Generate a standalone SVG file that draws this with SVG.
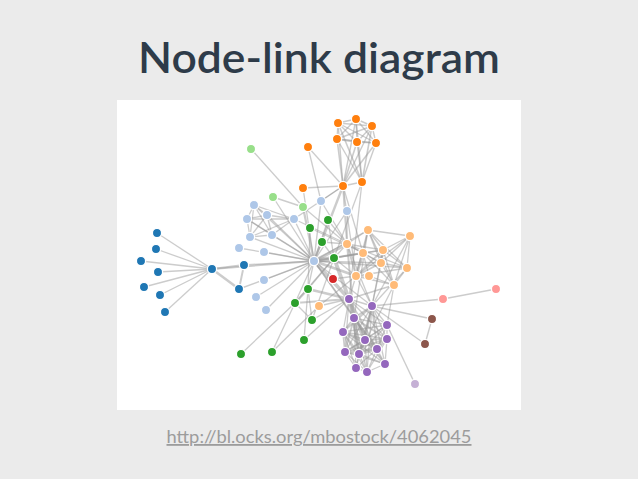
<svg xmlns="http://www.w3.org/2000/svg" width="638" height="479" viewBox="0 0 638 479">
<style>
.title{font-family:"Lato Semibold",Lato,"Liberation Sans",sans-serif;font-weight:600;font-size:42px;fill:#2e3b49}
.url{font-family:Lato,"Liberation Sans",sans-serif;font-size:18px;fill:#9c9c9c;text-decoration:underline}
#links line{stroke:#999;stroke-opacity:.5}
.w1{stroke-width:1.3}.w2{stroke-width:1.3}.w3{stroke-width:1.4}.w4{stroke-width:1.6}.w5{stroke-width:1.8}.w6{stroke-width:1.95}.w7{stroke-width:2.1}.w8{stroke-width:2.25}.w9{stroke-width:2.4}.w10{stroke-width:2.5}.w12{stroke-width:2.8}.w13{stroke-width:2.9}.w15{stroke-width:3.1}.w17{stroke-width:3.3}.w19{stroke-width:3.5}.w21{stroke-width:3.7}.w31{stroke-width:4.4}
.node circle{stroke:#fff;stroke-width:1.3}
.c1{fill:#1f77b4}.c2{fill:#aec7e8}.c3{fill:#ff7f0e}.c4{fill:#ffbb78}.c5{fill:#2ca02c}.c0{fill:#98df8a}.c6{fill:#d62728}.c7{fill:#ff9896}.c8{fill:#9467bd}.c9{fill:#c5b0d5}.c10{fill:#8c564b}
</style>
<rect x="0" y="0" width="638" height="479" fill="#ebebeb"/>
<text class="title" x="319" y="73" text-anchor="middle" textLength="362" lengthAdjust="spacingAndGlyphs">Node-link diagram</text>
<rect x="117" y="100" width="404" height="310" fill="#ffffff"/>
<g id="links">
<line x1="157" y1="233" x2="212" y2="269" class="w1"/>
<line x1="244" y1="265" x2="212" y2="269" class="w8"/>
<line x1="239" y1="289" x2="212" y2="269" class="w10"/>
<line x1="239" y1="289" x2="244" y2="265" class="w6"/>
<line x1="156" y1="249" x2="212" y2="269" class="w1"/>
<line x1="141" y1="261" x2="212" y2="269" class="w1"/>
<line x1="158" y1="272" x2="212" y2="269" class="w1"/>
<line x1="144" y1="287" x2="212" y2="269" class="w1"/>
<line x1="160" y1="295" x2="212" y2="269" class="w2"/>
<line x1="165" y1="312" x2="212" y2="269" class="w1"/>
<line x1="314" y1="261" x2="239" y2="248" class="w1"/>
<line x1="314" y1="261" x2="239" y2="289" class="w3"/>
<line x1="314" y1="261" x2="244" y2="265" class="w3"/>
<line x1="314" y1="261" x2="212" y2="269" class="w5"/>
<line x1="303" y1="188" x2="314" y2="261" class="w1"/>
<line x1="264" y1="252" x2="314" y2="261" class="w1"/>
<line x1="264" y1="280" x2="314" y2="261" class="w1"/>
<line x1="256" y1="297" x2="314" y2="261" class="w1"/>
<line x1="338" y1="123" x2="362" y2="182" class="w4"/>
<line x1="356" y1="119" x2="362" y2="182" class="w4"/>
<line x1="356" y1="119" x2="338" y2="123" class="w4"/>
<line x1="372" y1="126" x2="362" y2="182" class="w4"/>
<line x1="372" y1="126" x2="338" y2="123" class="w4"/>
<line x1="372" y1="126" x2="356" y2="119" class="w4"/>
<line x1="337" y1="139" x2="362" y2="182" class="w3"/>
<line x1="337" y1="139" x2="338" y2="123" class="w3"/>
<line x1="337" y1="139" x2="356" y2="119" class="w3"/>
<line x1="337" y1="139" x2="372" y2="126" class="w4"/>
<line x1="357" y1="142" x2="362" y2="182" class="w3"/>
<line x1="357" y1="142" x2="338" y2="123" class="w3"/>
<line x1="357" y1="142" x2="356" y2="119" class="w3"/>
<line x1="357" y1="142" x2="372" y2="126" class="w3"/>
<line x1="357" y1="142" x2="337" y2="139" class="w5"/>
<line x1="376" y1="143" x2="362" y2="182" class="w3"/>
<line x1="376" y1="143" x2="338" y2="123" class="w3"/>
<line x1="376" y1="143" x2="356" y2="119" class="w3"/>
<line x1="376" y1="143" x2="372" y2="126" class="w3"/>
<line x1="376" y1="143" x2="337" y2="139" class="w4"/>
<line x1="376" y1="143" x2="357" y2="142" class="w4"/>
<line x1="343" y1="186" x2="362" y2="182" class="w3"/>
<line x1="343" y1="186" x2="338" y2="123" class="w3"/>
<line x1="343" y1="186" x2="356" y2="119" class="w3"/>
<line x1="343" y1="186" x2="372" y2="126" class="w3"/>
<line x1="343" y1="186" x2="337" y2="139" class="w4"/>
<line x1="343" y1="186" x2="357" y2="142" class="w4"/>
<line x1="343" y1="186" x2="376" y2="143" class="w4"/>
<line x1="343" y1="186" x2="303" y2="188" class="w2"/>
<line x1="343" y1="186" x2="314" y2="261" class="w9"/>
<line x1="363" y1="253" x2="343" y2="186" class="w2"/>
<line x1="363" y1="253" x2="314" y2="261" class="w7"/>
<line x1="356" y1="276" x2="363" y2="253" class="w13"/>
<line x1="356" y1="276" x2="343" y2="186" class="w1"/>
<line x1="356" y1="276" x2="314" y2="261" class="w12"/>
<line x1="334" y1="258" x2="363" y2="253" class="w4"/>
<line x1="334" y1="258" x2="314" y2="261" class="w31"/>
<line x1="334" y1="258" x2="362" y2="182" class="w1"/>
<line x1="334" y1="258" x2="356" y2="276" class="w1"/>
<line x1="347" y1="244" x2="314" y2="261" class="w17"/>
<line x1="347" y1="244" x2="343" y2="186" class="w5"/>
<line x1="347" y1="244" x2="356" y2="276" class="w5"/>
<line x1="347" y1="244" x2="363" y2="253" class="w1"/>
<line x1="347" y1="244" x2="334" y2="258" class="w1"/>
<line x1="303" y1="207" x2="314" y2="261" class="w8"/>
<line x1="303" y1="207" x2="347" y2="244" class="w1"/>
<line x1="294" y1="219" x2="343" y2="186" class="w1"/>
<line x1="294" y1="219" x2="347" y2="244" class="w1"/>
<line x1="294" y1="219" x2="314" y2="261" class="w2"/>
<line x1="308" y1="147" x2="343" y2="186" class="w1"/>
<line x1="321" y1="201" x2="308" y2="147" class="w2"/>
<line x1="321" y1="201" x2="314" y2="261" class="w3"/>
<line x1="321" y1="201" x2="343" y2="186" class="w2"/>
<line x1="321" y1="201" x2="347" y2="244" class="w1"/>
<line x1="266" y1="310" x2="314" y2="261" class="w1"/>
<line x1="347" y1="211" x2="314" y2="261" class="w2"/>
<line x1="347" y1="211" x2="347" y2="244" class="w1"/>
<line x1="267" y1="215" x2="314" y2="261" class="w3"/>
<line x1="267" y1="215" x2="294" y2="219" class="w2"/>
<line x1="272" y1="235" x2="314" y2="261" class="w3"/>
<line x1="272" y1="235" x2="267" y2="215" class="w3"/>
<line x1="272" y1="235" x2="294" y2="219" class="w2"/>
<line x1="254" y1="205" x2="267" y2="215" class="w2"/>
<line x1="254" y1="205" x2="272" y2="235" class="w2"/>
<line x1="254" y1="205" x2="314" y2="261" class="w2"/>
<line x1="254" y1="205" x2="294" y2="219" class="w1"/>
<line x1="247" y1="219" x2="267" y2="215" class="w2"/>
<line x1="247" y1="219" x2="272" y2="235" class="w2"/>
<line x1="247" y1="219" x2="254" y2="205" class="w2"/>
<line x1="247" y1="219" x2="314" y2="261" class="w2"/>
<line x1="247" y1="219" x2="294" y2="219" class="w1"/>
<line x1="250" y1="237" x2="267" y2="215" class="w2"/>
<line x1="250" y1="237" x2="272" y2="235" class="w2"/>
<line x1="250" y1="237" x2="254" y2="205" class="w2"/>
<line x1="250" y1="237" x2="247" y2="219" class="w2"/>
<line x1="250" y1="237" x2="314" y2="261" class="w2"/>
<line x1="250" y1="237" x2="294" y2="219" class="w1"/>
<line x1="319" y1="306" x2="356" y2="276" class="w1"/>
<line x1="333" y1="279" x2="356" y2="276" class="w1"/>
<line x1="394" y1="285" x2="363" y2="253" class="w2"/>
<line x1="394" y1="285" x2="356" y2="276" class="w3"/>
<line x1="369" y1="276" x2="394" y2="285" class="w2"/>
<line x1="369" y1="276" x2="356" y2="276" class="w2"/>
<line x1="369" y1="276" x2="363" y2="253" class="w1"/>
<line x1="328" y1="220" x2="314" y2="261" class="w3"/>
<line x1="328" y1="220" x2="334" y2="258" class="w1"/>
<line x1="328" y1="220" x2="347" y2="244" class="w1"/>
<line x1="273" y1="197" x2="303" y2="207" class="w3"/>
<line x1="273" y1="197" x2="314" y2="261" class="w1"/>
<line x1="251" y1="149" x2="303" y2="207" class="w2"/>
<line x1="443" y1="299" x2="496" y2="289" class="w1"/>
<line x1="372" y1="306" x2="443" y2="299" class="w2"/>
<line x1="372" y1="306" x2="356" y2="276" class="w1"/>
<line x1="372" y1="306" x2="347" y2="244" class="w1"/>
<line x1="372" y1="306" x2="314" y2="261" class="w1"/>
<line x1="308" y1="289" x2="334" y2="258" class="w3"/>
<line x1="308" y1="289" x2="314" y2="261" class="w2"/>
<line x1="310" y1="228" x2="308" y2="289" class="w1"/>
<line x1="310" y1="228" x2="363" y2="253" class="w1"/>
<line x1="295" y1="303" x2="308" y2="289" class="w9"/>
<line x1="295" y1="303" x2="334" y2="258" class="w2"/>
<line x1="295" y1="303" x2="314" y2="261" class="w2"/>
<line x1="272" y1="352" x2="295" y2="303" class="w1"/>
<line x1="272" y1="352" x2="319" y2="306" class="w1"/>
<line x1="241" y1="354" x2="295" y2="303" class="w1"/>
<line x1="312" y1="320" x2="295" y2="303" class="w2"/>
<line x1="312" y1="320" x2="308" y2="289" class="w1"/>
<line x1="312" y1="320" x2="334" y2="258" class="w1"/>
<line x1="349" y1="299" x2="295" y2="303" class="w6"/>
<line x1="349" y1="299" x2="308" y2="289" class="w12"/>
<line x1="349" y1="299" x2="319" y2="306" class="w1"/>
<line x1="349" y1="299" x2="312" y2="320" class="w1"/>
<line x1="349" y1="299" x2="334" y2="258" class="w21"/>
<line x1="349" y1="299" x2="314" y2="261" class="w19"/>
<line x1="349" y1="299" x2="362" y2="182" class="w1"/>
<line x1="349" y1="299" x2="356" y2="276" class="w2"/>
<line x1="349" y1="299" x2="394" y2="285" class="w5"/>
<line x1="349" y1="299" x2="372" y2="306" class="w4"/>
<line x1="304" y1="340" x2="308" y2="289" class="w1"/>
<line x1="304" y1="340" x2="349" y2="299" class="w1"/>
<line x1="387" y1="325" x2="349" y2="299" class="w1"/>
<line x1="387" y1="325" x2="394" y2="285" class="w1"/>
<line x1="387" y1="325" x2="372" y2="306" class="w1"/>
<line x1="354" y1="318" x2="349" y2="299" class="w7"/>
<line x1="354" y1="318" x2="372" y2="306" class="w7"/>
<line x1="354" y1="318" x2="347" y2="244" class="w6"/>
<line x1="354" y1="318" x2="387" y2="325" class="w1"/>
<line x1="354" y1="318" x2="314" y2="261" class="w4"/>
<line x1="365" y1="340" x2="354" y2="318" class="w15"/>
<line x1="365" y1="340" x2="349" y2="299" class="w5"/>
<line x1="365" y1="340" x2="372" y2="306" class="w6"/>
<line x1="365" y1="340" x2="387" y2="325" class="w2"/>
<line x1="385" y1="364" x2="372" y2="306" class="w1"/>
<line x1="385" y1="364" x2="354" y2="318" class="w4"/>
<line x1="385" y1="364" x2="365" y2="340" class="w2"/>
<line x1="387" y1="339" x2="372" y2="306" class="w2"/>
<line x1="387" y1="339" x2="354" y2="318" class="w6"/>
<line x1="387" y1="339" x2="385" y2="364" class="w2"/>
<line x1="387" y1="339" x2="365" y2="340" class="w5"/>
<line x1="387" y1="339" x2="387" y2="325" class="w1"/>
<line x1="387" y1="339" x2="349" y2="299" class="w1"/>
<line x1="359" y1="354" x2="349" y2="299" class="w9"/>
<line x1="359" y1="354" x2="354" y2="318" class="w17"/>
<line x1="359" y1="354" x2="365" y2="340" class="w13"/>
<line x1="359" y1="354" x2="372" y2="306" class="w7"/>
<line x1="359" y1="354" x2="387" y2="325" class="w2"/>
<line x1="359" y1="354" x2="394" y2="285" class="w1"/>
<line x1="359" y1="354" x2="387" y2="339" class="w6"/>
<line x1="359" y1="354" x2="385" y2="364" class="w3"/>
<line x1="343" y1="332" x2="365" y2="340" class="w5"/>
<line x1="343" y1="332" x2="372" y2="306" class="w5"/>
<line x1="343" y1="332" x2="359" y2="354" class="w6"/>
<line x1="343" y1="332" x2="387" y2="325" class="w2"/>
<line x1="343" y1="332" x2="354" y2="318" class="w4"/>
<line x1="343" y1="332" x2="387" y2="339" class="w3"/>
<line x1="343" y1="332" x2="385" y2="364" class="w2"/>
<line x1="343" y1="332" x2="349" y2="299" class="w1"/>
<line x1="377" y1="349" x2="349" y2="299" class="w5"/>
<line x1="377" y1="349" x2="359" y2="354" class="w12"/>
<line x1="377" y1="349" x2="372" y2="306" class="w5"/>
<line x1="377" y1="349" x2="343" y2="332" class="w4"/>
<line x1="377" y1="349" x2="354" y2="318" class="w10"/>
<line x1="377" y1="349" x2="387" y2="339" class="w6"/>
<line x1="377" y1="349" x2="385" y2="364" class="w2"/>
<line x1="377" y1="349" x2="365" y2="340" class="w9"/>
<line x1="377" y1="349" x2="387" y2="325" class="w1"/>
<line x1="377" y1="349" x2="314" y2="261" class="w1"/>
<line x1="345" y1="352" x2="343" y2="332" class="w5"/>
<line x1="345" y1="352" x2="377" y2="349" class="w7"/>
<line x1="345" y1="352" x2="372" y2="306" class="w3"/>
<line x1="345" y1="352" x2="359" y2="354" class="w5"/>
<line x1="345" y1="352" x2="354" y2="318" class="w5"/>
<line x1="345" y1="352" x2="387" y2="339" class="w5"/>
<line x1="345" y1="352" x2="385" y2="364" class="w2"/>
<line x1="345" y1="352" x2="365" y2="340" class="w5"/>
<line x1="345" y1="352" x2="387" y2="325" class="w1"/>
<line x1="345" y1="352" x2="349" y2="299" class="w2"/>
<line x1="367" y1="372" x2="377" y2="349" class="w3"/>
<line x1="367" y1="372" x2="354" y2="318" class="w3"/>
<line x1="367" y1="372" x2="365" y2="340" class="w1"/>
<line x1="367" y1="372" x2="359" y2="354" class="w2"/>
<line x1="367" y1="372" x2="345" y2="352" class="w2"/>
<line x1="367" y1="372" x2="372" y2="306" class="w1"/>
<line x1="367" y1="372" x2="343" y2="332" class="w1"/>
<line x1="367" y1="372" x2="387" y2="339" class="w1"/>
<line x1="367" y1="372" x2="385" y2="364" class="w1"/>
<line x1="415" y1="384" x2="387" y2="325" class="w3"/>
<line x1="381" y1="263" x2="356" y2="276" class="w5"/>
<line x1="381" y1="263" x2="314" y2="261" class="w1"/>
<line x1="381" y1="263" x2="363" y2="253" class="w1"/>
<line x1="381" y1="263" x2="347" y2="244" class="w1"/>
<line x1="381" y1="263" x2="372" y2="306" class="w1"/>
<line x1="381" y1="263" x2="394" y2="285" class="w1"/>
<line x1="383" y1="250" x2="356" y2="276" class="w6"/>
<line x1="383" y1="250" x2="381" y2="263" class="w6"/>
<line x1="383" y1="250" x2="314" y2="261" class="w1"/>
<line x1="383" y1="250" x2="363" y2="253" class="w1"/>
<line x1="383" y1="250" x2="347" y2="244" class="w2"/>
<line x1="383" y1="250" x2="372" y2="306" class="w1"/>
<line x1="383" y1="250" x2="394" y2="285" class="w1"/>
<line x1="368" y1="230" x2="356" y2="276" class="w4"/>
<line x1="368" y1="230" x2="383" y2="250" class="w4"/>
<line x1="368" y1="230" x2="381" y2="263" class="w4"/>
<line x1="368" y1="230" x2="314" y2="261" class="w1"/>
<line x1="368" y1="230" x2="363" y2="253" class="w1"/>
<line x1="368" y1="230" x2="347" y2="244" class="w1"/>
<line x1="368" y1="230" x2="394" y2="285" class="w1"/>
<line x1="368" y1="230" x2="354" y2="318" class="w1"/>
<line x1="407" y1="268" x2="347" y2="244" class="w1"/>
<line x1="407" y1="268" x2="383" y2="250" class="w2"/>
<line x1="407" y1="268" x2="381" y2="263" class="w2"/>
<line x1="407" y1="268" x2="368" y2="230" class="w2"/>
<line x1="407" y1="268" x2="314" y2="261" class="w1"/>
<line x1="407" y1="268" x2="372" y2="306" class="w1"/>
<line x1="407" y1="268" x2="394" y2="285" class="w1"/>
<line x1="407" y1="268" x2="356" y2="276" class="w1"/>
<line x1="322" y1="242" x2="334" y2="258" class="w2"/>
<line x1="322" y1="242" x2="347" y2="244" class="w1"/>
<line x1="322" y1="242" x2="314" y2="261" class="w1"/>
<line x1="432" y1="319" x2="372" y2="306" class="w2"/>
<line x1="425" y1="344" x2="372" y2="306" class="w2"/>
<line x1="425" y1="344" x2="432" y2="319" class="w3"/>
<line x1="410" y1="236" x2="383" y2="250" class="w3"/>
<line x1="410" y1="236" x2="381" y2="263" class="w3"/>
<line x1="410" y1="236" x2="356" y2="276" class="w3"/>
<line x1="410" y1="236" x2="372" y2="306" class="w1"/>
<line x1="410" y1="236" x2="394" y2="285" class="w1"/>
<line x1="410" y1="236" x2="368" y2="230" class="w1"/>
<line x1="410" y1="236" x2="407" y2="268" class="w1"/>
<line x1="356" y1="368" x2="377" y2="349" class="w1"/>
<line x1="356" y1="368" x2="345" y2="352" class="w1"/>
<line x1="356" y1="368" x2="367" y2="372" class="w1"/>
<line x1="356" y1="368" x2="343" y2="332" class="w1"/>
<line x1="356" y1="368" x2="359" y2="354" class="w1"/>
<line x1="356" y1="368" x2="372" y2="306" class="w1"/>
<line x1="356" y1="368" x2="354" y2="318" class="w1"/>
</g>
<g id="n0" class="node"><circle class="c1" cx="212" cy="269" r="4.6"/></g>
<g id="n1" class="node"><circle class="c1" cx="157" cy="233" r="4.6"/></g>
<g id="n2" class="node"><circle class="c1" cx="244" cy="265" r="4.6"/></g>
<g id="n3" class="node"><circle class="c1" cx="239" cy="289" r="4.6"/></g>
<g id="n4" class="node"><circle class="c1" cx="156" cy="249" r="4.6"/></g>
<g id="n5" class="node"><circle class="c1" cx="141" cy="261" r="4.6"/></g>
<g id="n6" class="node"><circle class="c1" cx="158" cy="272" r="4.6"/></g>
<g id="n7" class="node"><circle class="c1" cx="144" cy="287" r="4.6"/></g>
<g id="n8" class="node"><circle class="c1" cx="160" cy="295" r="4.6"/></g>
<g id="n9" class="node"><circle class="c1" cx="165" cy="312" r="4.6"/></g>
<g id="n10" class="node"><circle class="c2" cx="239" cy="248" r="4.6"/></g>
<g id="n11" class="node"><circle class="c2" cx="314" cy="261" r="4.6"/></g>
<g id="n12" class="node"><circle class="c3" cx="303" cy="188" r="4.6"/></g>
<g id="n13" class="node"><circle class="c2" cx="264" cy="252" r="4.6"/></g>
<g id="n14" class="node"><circle class="c2" cx="264" cy="280" r="4.6"/></g>
<g id="n15" class="node"><circle class="c2" cx="256" cy="297" r="4.6"/></g>
<g id="n16" class="node"><circle class="c3" cx="362" cy="182" r="4.6"/></g>
<g id="n17" class="node"><circle class="c3" cx="338" cy="123" r="4.6"/></g>
<g id="n18" class="node"><circle class="c3" cx="356" cy="119" r="4.6"/></g>
<g id="n19" class="node"><circle class="c3" cx="372" cy="126" r="4.6"/></g>
<g id="n20" class="node"><circle class="c3" cx="337" cy="139" r="4.6"/></g>
<g id="n21" class="node"><circle class="c3" cx="357" cy="142" r="4.6"/></g>
<g id="n22" class="node"><circle class="c3" cx="376" cy="143" r="4.6"/></g>
<g id="n23" class="node"><circle class="c3" cx="343" cy="186" r="4.6"/></g>
<g id="n24" class="node"><circle class="c4" cx="363" cy="253" r="4.6"/></g>
<g id="n25" class="node"><circle class="c4" cx="356" cy="276" r="4.6"/></g>
<g id="n26" class="node"><circle class="c5" cx="334" cy="258" r="4.6"/></g>
<g id="n27" class="node"><circle class="c4" cx="347" cy="244" r="4.6"/></g>
<g id="n28" class="node"><circle class="c0" cx="303" cy="207" r="4.6"/></g>
<g id="n29" class="node"><circle class="c2" cx="294" cy="219" r="4.6"/></g>
<g id="n30" class="node"><circle class="c3" cx="308" cy="147" r="4.6"/></g>
<g id="n31" class="node"><circle class="c2" cx="321" cy="201" r="4.6"/></g>
<g id="n32" class="node"><circle class="c2" cx="266" cy="310" r="4.6"/></g>
<g id="n33" class="node"><circle class="c2" cx="347" cy="211" r="4.6"/></g>
<g id="n34" class="node"><circle class="c2" cx="267" cy="215" r="4.6"/></g>
<g id="n35" class="node"><circle class="c2" cx="272" cy="235" r="4.6"/></g>
<g id="n36" class="node"><circle class="c2" cx="254" cy="205" r="4.6"/></g>
<g id="n37" class="node"><circle class="c2" cx="247" cy="219" r="4.6"/></g>
<g id="n38" class="node"><circle class="c2" cx="250" cy="237" r="4.6"/></g>
<g id="n39" class="node"><circle class="c4" cx="319" cy="306" r="4.6"/></g>
<g id="n40" class="node"><circle class="c6" cx="333" cy="279" r="4.6"/></g>
<g id="n41" class="node"><circle class="c4" cx="394" cy="285" r="4.6"/></g>
<g id="n42" class="node"><circle class="c4" cx="369" cy="276" r="4.6"/></g>
<g id="n43" class="node"><circle class="c5" cx="328" cy="220" r="4.6"/></g>
<g id="n44" class="node"><circle class="c0" cx="273" cy="197" r="4.6"/></g>
<g id="n45" class="node"><circle class="c0" cx="251" cy="149" r="4.6"/></g>
<g id="n46" class="node"><circle class="c7" cx="496" cy="289" r="4.6"/></g>
<g id="n47" class="node"><circle class="c7" cx="443" cy="299" r="4.6"/></g>
<g id="n48" class="node"><circle class="c8" cx="372" cy="306" r="4.6"/></g>
<g id="n49" class="node"><circle class="c5" cx="308" cy="289" r="4.6"/></g>
<g id="n50" class="node"><circle class="c5" cx="310" cy="228" r="4.6"/></g>
<g id="n51" class="node"><circle class="c5" cx="295" cy="303" r="4.6"/></g>
<g id="n52" class="node"><circle class="c5" cx="272" cy="352" r="4.6"/></g>
<g id="n53" class="node"><circle class="c5" cx="241" cy="354" r="4.6"/></g>
<g id="n54" class="node"><circle class="c5" cx="312" cy="320" r="4.6"/></g>
<g id="n55" class="node"><circle class="c8" cx="349" cy="299" r="4.6"/></g>
<g id="n56" class="node"><circle class="c5" cx="304" cy="340" r="4.6"/></g>
<g id="n57" class="node"><circle class="c8" cx="387" cy="325" r="4.6"/></g>
<g id="n58" class="node"><circle class="c8" cx="354" cy="318" r="4.6"/></g>
<g id="n59" class="node"><circle class="c8" cx="365" cy="340" r="4.6"/></g>
<g id="n60" class="node"><circle class="c8" cx="385" cy="364" r="4.6"/></g>
<g id="n61" class="node"><circle class="c8" cx="387" cy="339" r="4.6"/></g>
<g id="n62" class="node"><circle class="c8" cx="359" cy="354" r="4.6"/></g>
<g id="n63" class="node"><circle class="c8" cx="343" cy="332" r="4.6"/></g>
<g id="n64" class="node"><circle class="c8" cx="377" cy="349" r="4.6"/></g>
<g id="n65" class="node"><circle class="c8" cx="345" cy="352" r="4.6"/></g>
<g id="n66" class="node"><circle class="c8" cx="367" cy="372" r="4.6"/></g>
<g id="n67" class="node"><circle class="c9" cx="415" cy="384" r="4.6"/></g>
<g id="n68" class="node"><circle class="c4" cx="381" cy="263" r="4.6"/></g>
<g id="n69" class="node"><circle class="c4" cx="383" cy="250" r="4.6"/></g>
<g id="n70" class="node"><circle class="c4" cx="368" cy="230" r="4.6"/></g>
<g id="n71" class="node"><circle class="c4" cx="407" cy="268" r="4.6"/></g>
<g id="n72" class="node"><circle class="c5" cx="322" cy="242" r="4.6"/></g>
<g id="n73" class="node"><circle class="c10" cx="432" cy="319" r="4.6"/></g>
<g id="n74" class="node"><circle class="c10" cx="425" cy="344" r="4.6"/></g>
<g id="n75" class="node"><circle class="c4" cx="410" cy="236" r="4.6"/></g>
<g id="n76" class="node"><circle class="c8" cx="356" cy="368" r="4.6"/></g>
<text class="url" x="319" y="443" text-anchor="middle" textLength="305" lengthAdjust="spacingAndGlyphs">http://bl.ocks.org/mbostock/4062045</text>
</svg>
